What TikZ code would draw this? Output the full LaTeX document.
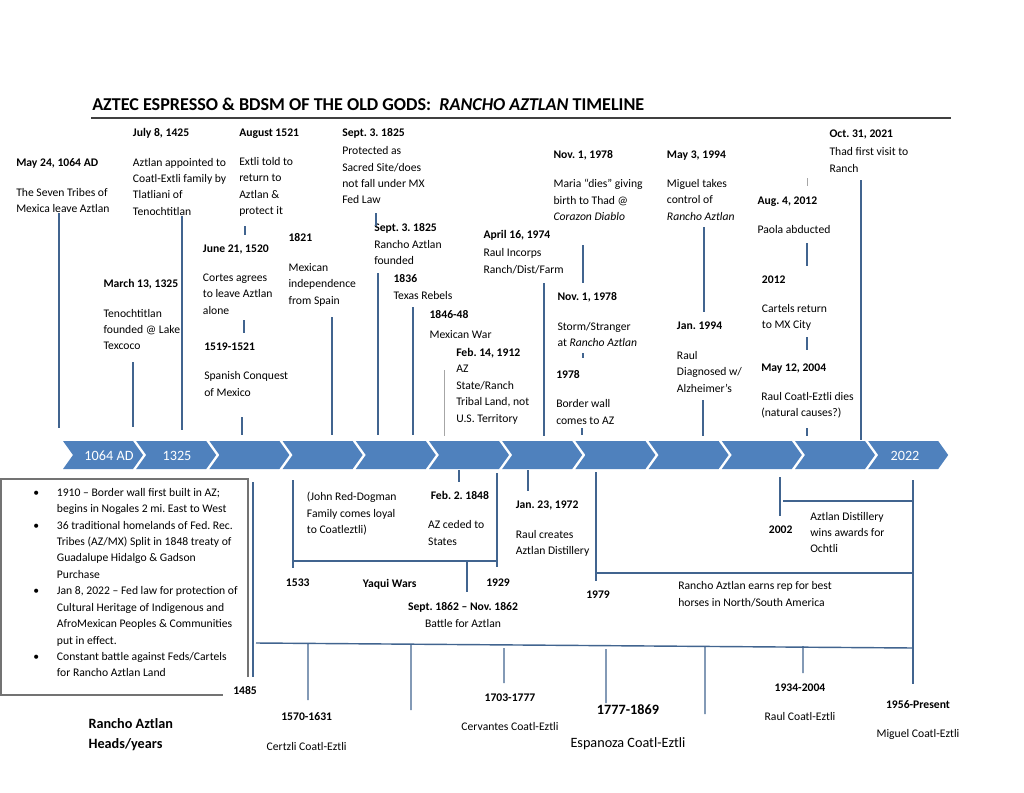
\documentclass[tikz,border=0pt]{standalone}
\usepackage{fontspec}
\setmainfont{Carlito}
\frenchspacing
\definecolor{tlband}{HTML}{4F81BD}
\definecolor{tlline}{HTML}{41648F}
\newcommand{\wg}{\\[10pt]}
\begin{document}
\begin{tikzpicture}[x=0.7734pt,y=-0.7734pt,
	lbl/.style={font=\fontsize{9}{12.7}\selectfont,align=left,inner sep=0pt,anchor=north west},
	hd/.style={font=\fontsize{9}{12.7}\selectfont,align=center,inner sep=0pt,anchor=north},
	big/.style={font=\fontsize{11}{14.5}\selectfont},
	yr/.style={font=\fontsize{11}{13}\selectfont,text=white,inner sep=0pt},
	tl/.style={draw=tlline,line width=1.1pt}]
	\useasboundingbox (0,0) rectangle (1024,792);
	\node[anchor=base west,inner sep=0pt,font=\bfseries\fontsize{14}{16}\selectfont] (title) at (92,110) {AZTEC ESPRESSO \& BDSM OF THE OLD GODS:\ \ \textit{RANCHO AZTLAN} TIMELINE};
	\draw[line width=1.6pt,black!75] (91,118)--(951,118);
	\foreach \i in {0,...,11}
		\fill[tlband] ({63+73.2*\i},441)--++(70,0)--++(10,14)--++(-10,14)--++(-70,0)--++(10,-14)--cycle;
	\node[yr] (c1) at (109,456) {1064 AD};
	\node[yr] (c2) at (177,456) {1325};
	\node[yr] (c12) at (905,456) {2022};
	\node[lbl] (t1) at (16,158.7) {\textbf{May 24, 1064 AD}\wg The Seven Tribes of\\Mexica leave Aztlan};
	\node[lbl] (t2) at (132.7,128.3) {\textbf{July 8, 1425}\wg Aztlan appointed to\\Coatl-Extli family by\\Tlatliani of\\Tenochtitlan};
	\node[lbl] (t3) at (239,128.3) {\textbf{August 1521}\wg Extli told to\\return to\\Aztlan \&\\protect it};
	\node[lbl] (t4) at (202.7,244.3) {\textbf{June 21, 1520}\wg Cortes agrees\\to leave Aztlan\\alone};
	\node[lbl] (t5) at (204,342.7) {\textbf{1519-1521}\wg Spanish Conquest\\of Mexico};
	\node[lbl] (t6) at (103.3,279.3) {\textbf{March 13, 1325}\wg Tenochtitlan\\founded @ Lake\\Texcoco};
	\node[lbl] (t7) at (288.3,233.7) {\textbf{1821}\wg Mexican\\independence\\from Spain};
	\node[lbl] (t8) at (342,128.7) {\textbf{Sept. 3. 1825}\\[1pt]Protected as\\Sacred Site/does\\not fall under MX\\Fed Law};
	\node[lbl] (t9) at (374,223.3) {\textbf{Sept. 3. 1825}\\Rancho Aztlan\\founded};
	\node[lbl] (t10) at (393.3,274.3) {\textbf{1836}\\Texas Rebels};
	\node[lbl] (t11) at (429.3,310.3) {\textbf{1846-48}\\[2.5pt]Mexican War};
	\node[lbl] (t12) at (456,348) {\textbf{Feb. 14, 1912}\\AZ\\State/Ranch\\Tribal Land, not\\U.S. Territory};
	\node[lbl] (t13) at (483.3,230) {\textbf{April 16, 1974}\\[1.5pt]Raul Incorps\\Ranch/Dist/Farm};
	\node[lbl] (t14) at (553.3,150.3) {\textbf{Nov. 1, 1978}\wg Maria “dies” giving\\birth to Thad @\\\textit{Corazon Diablo}};
	\node[lbl] (t15) at (557.3,292.7) {\textbf{Nov. 1, 1978}\wg Storm/Stranger\\at \textit{Rancho Aztlan}};
	\node[lbl] (t16) at (556,370) {\textbf{1978}\wg Border wall\\comes to AZ};
	\node[lbl] (t17) at (666.7,150.3) {\textbf{May 3, 1994}\wg Miguel takes\\control of\\\textit{Rancho Aztlan}};
	\node[lbl] (t18) at (676.7,322) {\textbf{Jan. 1994}\wg Raul\\Diagnosed w/\\Alzheimer’s};
	\node[lbl] (t19) at (757.3,196.7) {\textbf{Aug. 4, 2012}\wg Paola abducted};
	\node[lbl] (t20) at (761.7,275.3) {\textbf{2012}\wg Cartels return\\to MX City};
	\node[lbl] (t21) at (761,363.3) {\textbf{May 12, 2004}\wg Raul Coatl-Eztli dies\\(natural causes?)};
	\node[lbl] (t22) at (829.3,130) {\textbf{Oct. 31, 2021}\\[1pt]Thad first visit to\\Ranch};
	\draw[tl] (59,213)--(59,428) (182,216)--(182,430) (245,226)--(245,235) (244,320)--(244,333) (242,417)--(242,435) (133,362)--(133,427);
	\draw[tl] (332,317)--(332,435) (376,213)--(376,226) (378,273)--(378,435) (413,307)--(413,435) (544,283)--(544,436);
	\draw[tl] (583,245)--(583,283) (583,353)--(583,358) (582,428)--(582,435) (704,227)--(704,312) (703,400)--(703,436);
	\draw[tl] (807,243)--(807,266) (807,337)--(807,350) (807,428)--(807,436) (861,180)--(861,440);
	\draw[black!35,line width=0.7pt] (444,370)--(444,436) (807,178)--(807,186);
	\draw[black!55,line width=0.9pt] (248,677)--(248,479)--(1,479)--(1,695)--(223,695);
	\node[lbl,anchor=north west] (notes) at (33,484.5) {\begin{tabular}{@{}p{18.3pt}@{}l@{}}
		•&1910 – Border wall first built in AZ;\\
		&begins in Nogales 2 mi. East to West\\
		•&36 traditional homelands of Fed. Rec.\\
		&Tribes (AZ/MX) Split in 1848 treaty of\\
		&Guadalupe Hidalgo \& Gadson\\
		&Purchase\\
		•&Jan 8, 2022 – Fed law for protection of\\
		&Cultural Heritage of Indigenous and\\
		&AfroMexican Peoples \& Communities\\
		&put in effect.\\
		•&Constant battle against Feds/Cartels\\
		&for Rancho Aztlan Land
	\end{tabular}};
	\node[lbl] (b1) at (306.7,492) {(John Red-Dogman\\Family comes loyal\\to Coatleztli)};
	\node[lbl] (b2) at (430.5,491) {\textbf{Feb. 2. 1848}\wg \hspace*{-2pt}AZ ceded to\\\hspace*{-2pt}States};
	\node[lbl] (b3) at (515.6,501) {\textbf{Jan. 23, 1972}\wg Raul creates\\Aztlan Distillery};
	\node[lbl] (b4) at (810,511.7) {Aztlan Distillery\\wins awards for\\Ochtli};
	\node[lbl] (b5) at (768.6,525.3) {\textbf{2002}};
	\node[lbl] (b6) at (285.7,578.7) {\textbf{1533}};
	\node[lbl] (b7) at (362.7,578.7) {\textbf{Yaqui Wars}};
	\node[lbl] (b8) at (486,578.7) {\textbf{1929}};
	\node[hd] (b9) at (463,601.7) {\textbf{Sept. 1862 – Nov. 1862}\\[1pt]Battle for Aztlan};
	\node[lbl] (b10) at (586,590.3) {\textbf{1979}};
	\node[lbl] (b11) at (678,581.3) {Rancho Aztlan earns rep for best\\horses in North/South America};
	\node[lbl] (b12) at (233,686) {\textbf{1485}};
	\draw[tl] (459,470)--(459,482) (528,470)--(528,491) (293,480)--(293,568) (293,561)--(497,561) (497,473)--(497,567) (467,561)--(467,592);
	\draw[tl] (596,472)--(596,581) (596,573)--(913,573) (913,480)--(913,684) (780,477)--(780,516) (783,501)--(913,501) (253,482)--(253,677);
	\draw[tl] (256,643)--(913,648) (308,643)--(308,700) (411,644)--(411,710) (504,648)--(504,683) (606,649)--(606,703) (705,647)--(705,714) (803,646)--(803,673);
	\node[lbl,big,font=\bfseries\fontsize{11}{15.5}\selectfont] (heads) at (88.3,718.3) {Rancho Aztlan\\Heads/years};
	\node[hd] (h1) at (306.7,712.7) {\textbf{1570-1631}\wg Certzli Coatl-Eztli};
	\node[hd] (h2) at (510,693.3) {\textbf{1703-1777}\wg Cervantes Coatl-Eztli};
	\node[hd,font=\fontsize{11}{14.5}\selectfont] (h3) at (628,704.3) {\textbf{1777-1869}\\[11pt]Espanoza Coatl-Eztli};
	\node[hd] (h4) at (800,683.3) {\textbf{1934-2004}\wg Raul Coatl-Eztli};
	\node[hd] (h5) at (918,700) {\textbf{1956-Present}\wg Miguel Coatl-Eztli};
\end{tikzpicture}
\end{document}
